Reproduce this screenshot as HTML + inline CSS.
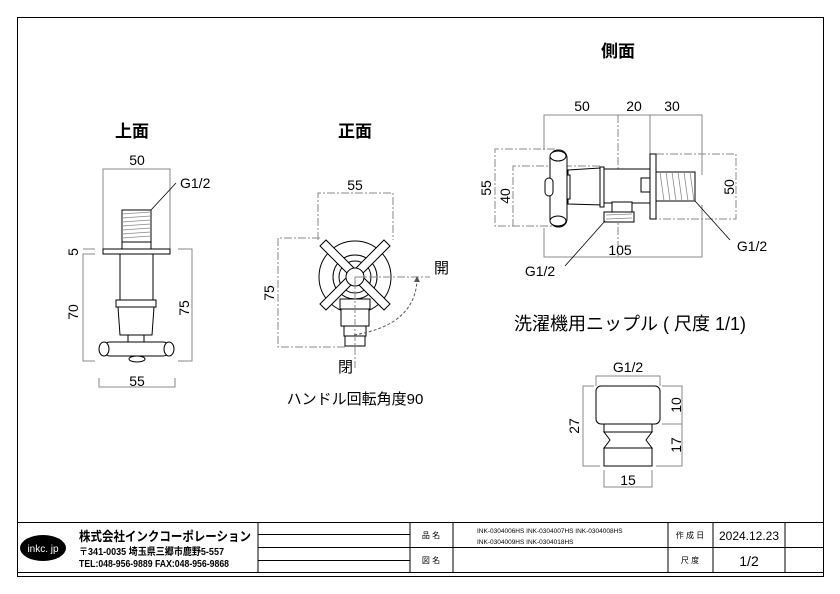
<!DOCTYPE html>
<html><head><meta charset="utf-8"><style>
body{margin:0;background:#fff}
svg{display:block}
text{font-family:"Liberation Sans","Noto Sans CJK JP",sans-serif;fill:#000}
.d{stroke:#888;stroke-width:1;fill:none}
.c{stroke:#888;stroke-width:1;fill:none;stroke-dasharray:8 2 2 2}
.p{stroke:#000;stroke-width:1;fill:#fff}
.t{stroke:#888;stroke-width:0.8}
</style></head><body>
<svg width="840" height="594" viewBox="0 0 840 594">
<rect x="0" y="0" width="840" height="594" fill="#fff"/>
<rect x="17.5" y="17.5" width="806" height="559" fill="none" stroke="#000"/>

<!-- Titles -->
<text x="132" y="137" font-size="17" font-weight="bold" text-anchor="middle">上面</text>
<text x="355" y="137" font-size="17" font-weight="bold" text-anchor="middle">正面</text>
<text x="618" y="57" font-size="17" font-weight="bold" text-anchor="middle">側面</text>
<text x="630" y="330" font-size="18" text-anchor="middle">洗濯機用ニップル ( 尺度 1/1)</text>
<text x="355" y="404" font-size="15" text-anchor="middle">ハンドル回転角度90</text>

<!-- TOP VIEW -->
<polyline class="d" points="103,250 103,169 170,169 170,250"/>
<text x="137" y="165" font-size="14" text-anchor="middle">50</text>
<text x="180" y="188" font-size="14">G1/2</text>
<line x1="151" y1="210" x2="176" y2="183" stroke="#000" stroke-width="0.8"/>
<rect class="p" x="122" y="210" width="29" height="32"/>
<g class="t"><line x1="122" y1="214" x2="151" y2="212"/><line x1="122" y1="218" x2="151" y2="216"/><line x1="122" y1="222" x2="151" y2="220"/><line x1="122" y1="226" x2="151" y2="224"/><line x1="122" y1="230" x2="151" y2="228"/><line x1="122" y1="234" x2="151" y2="232"/><line x1="122" y1="238" x2="151" y2="236"/></g>
<rect class="p" x="122" y="242" width="29" height="7"/>
<rect class="p" x="103" y="249" width="67" height="5"/>
<rect class="p" x="120" y="254" width="33" height="46"/>
<rect class="p" x="116" y="300" width="40" height="7"/>
<polygon class="p" points="118,307 154,307 152,335 120,335"/>
<rect class="p" x="128" y="335" width="16" height="7"/>
<rect class="p" x="103" y="342" width="67" height="14" rx="7"/>
<ellipse class="p" cx="104" cy="349" rx="5" ry="7"/>
<ellipse class="p" cx="169" cy="349" rx="5" ry="7"/>
<ellipse class="p" cx="137" cy="359" rx="8" ry="3"/>
<polyline class="d" points="95,249 83,249"/>
<polyline class="d" points="95,254 83,254 83,361 95,361"/>
<polyline class="d" points="178,249 192,249 192,361 178,361"/>
<text x="78" y="252" font-size="14" text-anchor="middle" transform="rotate(-90 78 252)">5</text>
<text x="78" y="312" font-size="14" text-anchor="middle" transform="rotate(-90 78 312)">70</text>
<text x="189" y="308" font-size="14" text-anchor="middle" transform="rotate(-90 189 308)">75</text>
<polyline class="d" points="99,378 99,387 175,387 175,378"/>
<text x="137" y="386" font-size="14" text-anchor="middle">55</text>

<!-- FRONT VIEW -->
<polyline class="c" points="318,240 318,193 393,193 393,240"/>
<text x="355" y="190" font-size="14" text-anchor="middle">55</text>
<polyline class="c" points="320,238 278,238 278,347 345,347"/>
<text x="274" y="293" font-size="14" text-anchor="middle" transform="rotate(-90 274 293)">75</text>
<circle class="p" cx="355" cy="277" r="36"/>
<circle class="p" cx="355" cy="277" r="22"/>
<circle class="p" cx="355" cy="277" r="16"/>
<rect class="p" x="340" y="299" width="30" height="10"/>
<rect class="p" x="341" y="309" width="28" height="17"/>
<rect class="p" x="344" y="326" width="22" height="10"/>
<rect class="p" x="345" y="336" width="20" height="10"/>
<g stroke="#000" fill="#fff" stroke-width="1">
<polygon points="320,246 326,240 390,304 384,310"/>
<polygon points="384,240 390,246 326,310 320,304"/>
</g>
<circle class="p" cx="355" cy="277" r="9"/>
<line class="c" x1="355" y1="277" x2="430" y2="277"/>
<line class="c" x1="355" y1="277" x2="355" y2="368"/>
<path d="M354,335 Q415,325 417,280" fill="none" stroke="#555" stroke-dasharray="3 2"/>
<polygon points="417,276 414,282 420,282" fill="#555"/>
<text x="434" y="273" font-size="15">開</text>
<text x="338" y="372" font-size="15">閉</text>

<!-- SIDE VIEW -->
<polyline class="d" points="544,150 544,115 702,115 702,175"/>
<line class="c" x1="618" y1="115" x2="618" y2="257"/>
<line class="d" x1="650" y1="115" x2="650" y2="155"/>
<text x="582" y="111" font-size="14" text-anchor="middle">50</text>
<text x="634" y="111" font-size="14" text-anchor="middle">20</text>
<text x="672" y="111" font-size="14" text-anchor="middle">30</text>
<polyline class="d" points="544,228 544,257 702,257 702,205"/>
<text x="620" y="255" font-size="14" text-anchor="middle">105</text>
<polyline class="c" points="555,149 495,149 495,226 560,226"/>
<polyline class="c" points="600,166 513,166 513,226"/>
<text x="491" y="188" font-size="14" text-anchor="middle" transform="rotate(-90 491 188)">55</text>
<text x="510" y="196" font-size="14" text-anchor="middle" transform="rotate(-90 510 196)">40</text>
<polyline class="c" points="656,154 736,154 736,219 656,219"/>
<text x="734" y="187" font-size="14" text-anchor="middle" transform="rotate(-90 734 187)">50</text>
<rect class="p" x="596" y="169" width="56" height="34"/>
<polygon class="p" points="568,170 600,168 603,205 568,204"/>
<rect class="p" x="600" y="167" width="4" height="40"/>
<rect class="p" x="641" y="178" width="9" height="14"/>
<rect class="p" x="612" y="202" width="20" height="10"/>
<rect class="p" x="604" y="212" width="30" height="10"/>
<g class="t"><line x1="606" y1="215" x2="632" y2="214"/><line x1="606" y1="219" x2="632" y2="218"/></g>
<rect class="p" x="650" y="154" width="6" height="65"/>
<rect class="p" x="656" y="172" width="39" height="29"/>
<g class="t"><line x1="660" y1="172" x2="664" y2="201"/><line x1="666" y1="172" x2="670" y2="201"/><line x1="672" y1="172" x2="676" y2="201"/><line x1="678" y1="172" x2="682" y2="201"/><line x1="684" y1="172" x2="688" y2="201"/><line x1="690" y1="172" x2="694" y2="201"/></g>
<rect class="p" x="564" y="175" width="6" height="24"/>
<rect class="p" x="550" y="150" width="17" height="77" rx="8"/>
<ellipse class="p" cx="558" cy="156" rx="8" ry="5"/>
<ellipse class="p" cx="558" cy="221" rx="8" ry="5"/>
<rect class="p" x="545" y="178" width="8" height="18" rx="4"/>
<line x1="605" y1="221" x2="565" y2="266" stroke="#000" stroke-width="0.8"/>
<text x="540" y="276" font-size="14" text-anchor="middle">G1/2</text>
<line x1="695" y1="201" x2="730" y2="240" stroke="#000" stroke-width="0.8"/>
<text x="752" y="251" font-size="14" text-anchor="middle">G1/2</text>

<!-- NIPPLE -->
<polyline class="d" points="596,386 596,376 660,376 660,386"/>
<text x="628" y="372" font-size="14" text-anchor="middle">G1/2</text>
<rect class="p" x="596" y="386" width="64" height="38" rx="5"/>
<rect class="p" x="604" y="424" width="48" height="8"/>
<polygon class="p" points="604,432 652,432 646,440 652,448 604,448 610,440"/>
<rect class="p" x="604" y="448" width="48" height="18"/>
<polyline class="d" points="594,386 583,386 583,466 600,466"/>
<polyline class="d" points="662,386 682,386 682,466 656,466"/>
<line class="d" x1="662" y1="424" x2="682" y2="424"/>
<text x="579" y="426" font-size="14" text-anchor="middle" transform="rotate(-90 579 426)">27</text>
<text x="681" y="405" font-size="14" text-anchor="middle" transform="rotate(-90 681 405)">10</text>
<text x="681" y="445" font-size="14" text-anchor="middle" transform="rotate(-90 681 445)">17</text>
<polyline class="d" points="604,470 604,487 652,487 652,470"/>
<text x="628" y="485" font-size="14" text-anchor="middle">15</text>

<!-- TITLE BLOCK -->
<g stroke="#000" stroke-width="1" fill="none">
<rect x="17.5" y="522.5" width="806" height="50"/>
<line x1="258" y1="522" x2="258" y2="572"/>
<line x1="410" y1="522" x2="410" y2="572"/>
<line x1="453" y1="522" x2="453" y2="572"/>
<line x1="668" y1="522" x2="668" y2="572"/>
<line x1="713" y1="522" x2="713" y2="572"/>
<line x1="785" y1="522" x2="785" y2="572"/>
<line x1="258" y1="534.5" x2="410" y2="534.5"/>
<line x1="258" y1="547.5" x2="823" y2="547.5"/>
<line x1="258" y1="560.5" x2="410" y2="560.5"/>
</g>
<ellipse cx="43" cy="548" rx="23" ry="13" fill="#000"/>
<text x="43" y="552" font-size="10" text-anchor="middle" style="fill:#fff">inkc. jp</text>
<text x="79" y="541" font-size="13" font-weight="bold" textLength="172" lengthAdjust="spacingAndGlyphs">株式会社インクコーポレーション</text>
<text x="79" y="555" font-size="10" font-weight="bold" textLength="145" lengthAdjust="spacingAndGlyphs">〒341-0035 埼玉県三郷市鹿野5-557</text>
<text x="79" y="567" font-size="10" font-weight="bold" textLength="150" lengthAdjust="spacingAndGlyphs">TEL:048-956-9889  FAX:048-956-9868</text>
<text x="431" y="538" font-size="8" text-anchor="middle">品 名</text>
<text x="431" y="563" font-size="8" text-anchor="middle">図 名</text>
<text x="477" y="533" font-size="6.5" fill="#333">INK-0304006HS INK-0304007HS INK-0304008HS</text>
<text x="477" y="544" font-size="6.5" fill="#333">INK-0304009HS INK-0304018HS</text>
<text x="690" y="538" font-size="8" text-anchor="middle">作 成 日</text>
<text x="690" y="563" font-size="8" text-anchor="middle">尺 度</text>
<text x="749" y="540" font-size="12" text-anchor="middle">2024.12.23</text>
<text x="749" y="566" font-size="14" text-anchor="middle">1/2</text>
</svg>
</body></html>
